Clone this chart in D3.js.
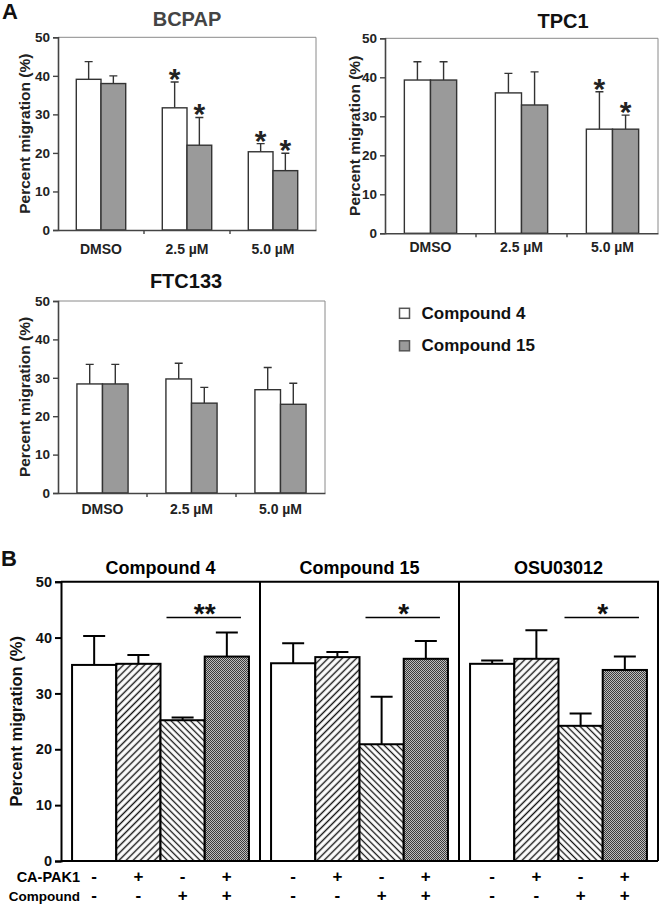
<!DOCTYPE html>
<html><head><meta charset="utf-8">
<script src="https://cdn.jsdelivr.net/npm/d3@7"></script>
<style>
body{margin:0;background:#fff}
svg{display:block}
text{font-family:Arial,"Liberation Sans",Helvetica,sans-serif;font-weight:bold}
</style>
</head><body>
<svg id="c" width="660" height="905"></svg>
<script>
// ---------- DATA ----------
const doses = ["DMSO", "2.5 µM", "5.0 µM"];
const seriesA = ["Compound 4", "Compound 15"];
const yTicks = [0, 10, 20, 30, 40, 50];

const bcpapC4 = [39.1, 31.7, 20.3];
const bcpapC4Err = [4.6, 6.7, 2.1];
const bcpapC15 = [38.0, 22.0, 15.4];
const bcpapC15Err = [2.0, 7.2, 4.5];
const bcpapSig4 = [false, true, true];
const bcpapSig15 = [false, true, true];

const tpc1C4 = [39.3, 36.0, 26.7];
const tpc1C4Err = [4.7, 5.0, 9.6];
const tpc1C15 = [39.3, 32.9, 26.7];
const tpc1C15Err = [4.7, 8.5, 3.6];
const tpc1Sig4 = [false, false, true];
const tpc1Sig15 = [false, false, true];

const ftcC4 = [28.4, 29.7, 26.9];
const ftcC4Err = [5.1, 4.1, 5.8];
const ftcC15 = [28.4, 23.4, 23.1];
const ftcC15Err = [5.1, 4.1, 5.5];
const ftcSig4 = [false, false, false];
const ftcSig15 = [false, false, false];

const bPanels = ["Compound 4", "Compound 15", "OSU03012"];
const bConds = ["control", "CA-PAK1", "compound", "both"];
const caPak1Signs = ["-", "+", "-", "+"];
const compoundSigns = ["-", "-", "+", "+"];
const bComp4 = [35.1, 35.3, 25.2, 36.6];
const bComp4Err = [5.2, 1.6, 0.5, 4.3];
const bComp15 = [35.4, 36.5, 20.9, 36.2];
const bComp15Err = [3.6, 0.9, 8.5, 3.2];
const bOSU = [35.3, 36.2, 24.2, 34.2];
const bOSUErr = [0.6, 5.1, 2.2, 2.4];
const bSigMarks = ["**", "*", "*"];
const bSigLevel = 43.6;

// ---------- SETUP ----------
const svg = d3.select("#c");
const defs = svg.append("defs");
function hatch(id, angle, gap, w) {
  const p = defs.append("pattern").attr("id", id).attr("patternUnits", "userSpaceOnUse")
    .attr("width", gap).attr("height", gap).attr("patternTransform", `rotate(${angle})`);
  p.append("rect").attr("width", gap).attr("height", gap).attr("fill", "#fff");
  p.append("line").attr("x1", gap / 2).attr("x2", gap / 2).attr("y1", 0).attr("y2", gap)
    .attr("stroke", "#111").attr("stroke-width", w);
}
hatch("hatchF", 45, 5, 1.4);
hatch("hatchB", -45, 4.6, 1.3);
const chk = defs.append("pattern").attr("id", "chk").attr("patternUnits", "userSpaceOnUse")
  .attr("width", 2).attr("height", 2);
chk.append("rect").attr("width", 2).attr("height", 2).attr("fill", "#bdbdbd");
chk.append("rect").attr("width", 1).attr("height", 1).attr("fill", "#3c3c3c");
chk.append("rect").attr("x", 1).attr("y", 1).attr("width", 1).attr("height", 1).attr("fill", "#3c3c3c");

const fillA = {"Compound 4": "#ffffff", "Compound 15": "#9a9a9a"};

// ---------- PANEL A ----------
function drawA(cfg) {
  const g = svg.append("g");
  const y = d3.scaleLinear().domain([0, 50]).range([cfg.yBot, cfg.yTop]);
  const x = d3.scaleBand().domain(doses).range([cfg.x0, cfg.x1]);
  const xi = d3.scaleBand().domain(seriesA).range([0, x.bandwidth()]).paddingOuter(0.74);

  g.append("path").attr("d", `M${cfg.x0},${cfg.yTop}H${cfg.x1}V${cfg.yBot}`)
    .attr("fill", "none").attr("stroke", "#8a8a8a").attr("stroke-width", 1);

  const rows = [];
  doses.forEach((d, i) => {
    rows.push({d, s: "Compound 4", v: cfg.v4[i], e: cfg.e4[i], sig: cfg.s4[i]});
    rows.push({d, s: "Compound 15", v: cfg.v15[i], e: cfg.e15[i], sig: cfg.s15[i]});
  });
  const bw = xi.bandwidth();
  const cx = r => x(r.d) + xi(r.s) + bw / 2;

  g.selectAll(".eb").data(rows).join("path")
    .attr("d", r => `M${cx(r)},${y(r.v)}V${y(r.v + r.e)}M${cx(r) - 4},${y(r.v + r.e)}H${cx(r) + 4}`)
    .attr("stroke", "#333").attr("stroke-width", 1.4).attr("fill", "none");
  g.selectAll(".bar").data(rows).join("rect")
    .attr("x", r => x(r.d) + xi(r.s)).attr("width", bw)
    .attr("y", r => y(r.v)).attr("height", r => y(0) - y(r.v))
    .attr("fill", r => fillA[r.s]).attr("stroke", "#333").attr("stroke-width", 1.4);
  g.selectAll(".star").data(rows.filter(r => r.sig)).join("text")
    .attr("x", cx).attr("y", r => y(r.v + r.e) - 10 + 17)
    .attr("text-anchor", "middle").attr("font-size", 30).attr("fill", "#222").text("*");

  const ya = g.append("g").attr("transform", `translate(${cfg.x0},0)`)
    .call(d3.axisLeft(y).tickValues(yTicks).tickSize(5).tickPadding(3));
  ya.attr("font-family", null);
  ya.select(".domain").attr("stroke", "#444").attr("stroke-width", 1.6);
  ya.selectAll(".tick line").attr("stroke", "#444").attr("stroke-width", 1.4);
  ya.selectAll(".tick text").attr("font-size", 13.5).attr("fill", "#222");

  const xa = g.append("g").attr("transform", `translate(0,${cfg.yBot})`)
    .call(d3.axisBottom(x).tickSize(0).tickPadding(cfg.xPad));
  xa.attr("font-family", null);
  xa.select(".domain").attr("stroke", "#444").attr("stroke-width", 1.6);
  xa.selectAll(".tick text").attr("font-size", 14).attr("fill", "#222");
  g.selectAll(".bt").data(doses.slice(1)).join("line")
    .attr("x1", d => x(d)).attr("x2", d => x(d))
    .attr("y1", cfg.yBot).attr("y2", cfg.yBot + 4).attr("stroke", "#444").attr("stroke-width", 1.4);

  g.append("text").attr("transform", `translate(${cfg.labX},${(cfg.yTop + cfg.yBot) / 2}) rotate(-90)`)
    .attr("text-anchor", "middle").attr("font-size", 15.5).attr("fill", "#222")
    .text("Percent migration (%)");
  g.append("text").attr("x", cfg.tx).attr("y", cfg.ty).attr("text-anchor", "middle")
    .attr("font-size", 20).attr("fill", cfg.tcol).text(cfg.title);
}

drawA({x0: 58, x1: 316, yTop: 37.3, yBot: 230, title: "BCPAP", tx: 187, ty: 26, tcol: "#444",
  v4: bcpapC4, e4: bcpapC4Err, v15: bcpapC15, e15: bcpapC15Err, s4: bcpapSig4, s15: bcpapSig15,
  labX: 30, xPad: 14});
drawA({x0: 385, x1: 658, yTop: 38.3, yBot: 233.3, title: "TPC1", tx: 563, ty: 28, tcol: "#111",
  v4: tpc1C4, e4: tpc1C4Err, v15: tpc1C15, e15: tpc1C15Err, s4: tpc1Sig4, s15: tpc1Sig15,
  labX: 360, xPad: 9});
drawA({x0: 58, x1: 325, yTop: 301, yBot: 493, title: "FTC133", tx: 186, ty: 288, tcol: "#111",
  v4: ftcC4, e4: ftcC4Err, v15: ftcC15, e15: ftcC15Err, s4: ftcSig4, s15: ftcSig15,
  labX: 30, xPad: 11});

svg.append("text").attr("x", 2).attr("y", 19).attr("font-size", 22).attr("fill", "#111").text("A");

// legend
const leg = svg.append("g");
seriesA.forEach((s, i) => {
  const yy = 308.3 + i * 32.5;
  leg.append("rect").attr("x", 399.5).attr("y", yy).attr("width", 10).attr("height", 10)
    .attr("fill", fillA[s]).attr("stroke", "#555").attr("stroke-width", 1.5);
  leg.append("text").attr("x", 421.5).attr("y", yy + 10.5).attr("font-size", 17).attr("fill", "#111").text(s);
});

// ---------- PANEL B ----------
const bx0 = 61, bx1 = 658, byTop = 581.7, byBot = 861;
const yB = d3.scaleLinear().domain([0, 50]).range([byBot, byTop]);
const pX = d3.scaleBand().domain(bPanels).range([bx0, bx1]);
const bVals = [bComp4, bComp15, bOSU];
const bErrs = [bComp4Err, bComp15Err, bOSUErr];
const bFills = ["#ffffff", "url(#hatchF)", "url(#hatchB)", "url(#chk)"];
const gB = svg.append("g");

bPanels.forEach((p, pi) => {
  const sx0 = pX(p), sx1 = pX(p) + pX.bandwidth();
  const x = d3.scaleBand().domain(bConds).range([sx0, sx1]).paddingOuter(0.25);
  const bw = x.bandwidth();
  const rows = bConds.map((c, i) => ({c, i, v: bVals[pi][i], e: bErrs[pi][i]}));
  const cx = r => x(r.c) + bw / 2;
  gB.selectAll(null).data(rows).join("path")
    .attr("d", r => `M${cx(r)},${yB(r.v)}V${yB(r.v + r.e)}M${cx(r) - 11},${yB(r.v + r.e)}H${cx(r) + 11}`)
    .attr("stroke", "#000").attr("stroke-width", 2).attr("fill", "none");
  gB.selectAll(null).data(rows).join("rect")
    .attr("x", r => x(r.c)).attr("width", bw)
    .attr("y", r => yB(r.v)).attr("height", r => yB(0) - yB(r.v))
    .attr("fill", r => bFills[r.i]).attr("stroke", "#000").attr("stroke-width", 2);
  const lx0 = x("compound") + 6, lx1 = x("both") + bw - 8;
  gB.append("line").attr("x1", lx0).attr("x2", lx1).attr("y1", yB(bSigLevel)).attr("y2", yB(bSigLevel))
    .attr("stroke", "#000").attr("stroke-width", 1.6);
  gB.append("text").attr("x", x("both")).attr("y", yB(bSigLevel) - 10 + 16)
    .attr("text-anchor", "middle").attr("font-size", 28).attr("font-weight", "normal")
    .attr("fill", "#111").text(bSigMarks[pi]);
  gB.append("text").attr("x", (sx0 + sx1) / 2).attr("y", 574).attr("text-anchor", "middle")
    .attr("font-size", 18).attr("fill", "#000").text(p);
  gB.selectAll(null).data(rows).join("text")
    .attr("x", cx).attr("y", 881.5).attr("text-anchor", "middle").attr("font-size", 17)
    .text(r => caPak1Signs[r.i]);
  gB.selectAll(null).data(rows).join("text")
    .attr("x", cx).attr("y", 901).attr("text-anchor", "middle").attr("font-size", 17)
    .text(r => compoundSigns[r.i]);
  if (pi > 0) {
    gB.append("line").attr("x1", sx0).attr("x2", sx0).attr("y1", byTop).attr("y2", byBot)
      .attr("stroke", "#000").attr("stroke-width", 2);
  }
});
gB.append("path").attr("d", `M${bx0},${byTop}H${bx1}V${byBot}`)
  .attr("fill", "none").attr("stroke", "#000").attr("stroke-width", 2);
const yaB = gB.append("g").attr("transform", `translate(${bx0},0)`)
  .call(d3.axisLeft(yB).tickValues(yTicks).tickSize(6).tickPadding(3));
yaB.attr("font-family", null);
yaB.select(".domain").attr("stroke", "#000").attr("stroke-width", 2);
yaB.selectAll(".tick line").attr("stroke", "#000").attr("stroke-width", 2);
yaB.selectAll(".tick text").attr("font-size", 14.5).attr("fill", "#111");
gB.append("line").attr("x1", bx0).attr("x2", bx1).attr("y1", byBot).attr("y2", byBot)
  .attr("stroke", "#000").attr("stroke-width", 2);
gB.append("text").attr("transform", `translate(22,${(byTop + byBot) / 2}) rotate(-90)`)
  .attr("text-anchor", "middle").attr("font-size", 16.5).attr("fill", "#111").text("Percent migration (%)");
gB.append("text").attr("x", 80).attr("y", 881.5).attr("text-anchor", "end").attr("font-size", 14.5).text("CA-PAK1");
gB.append("text").attr("x", 80).attr("y", 901).attr("text-anchor", "end").attr("font-size", 13.5).text("Compound");
svg.append("text").attr("x", 1).attr("y", 566).attr("font-size", 22).attr("fill", "#111").text("B");
</script>
</body></html>
